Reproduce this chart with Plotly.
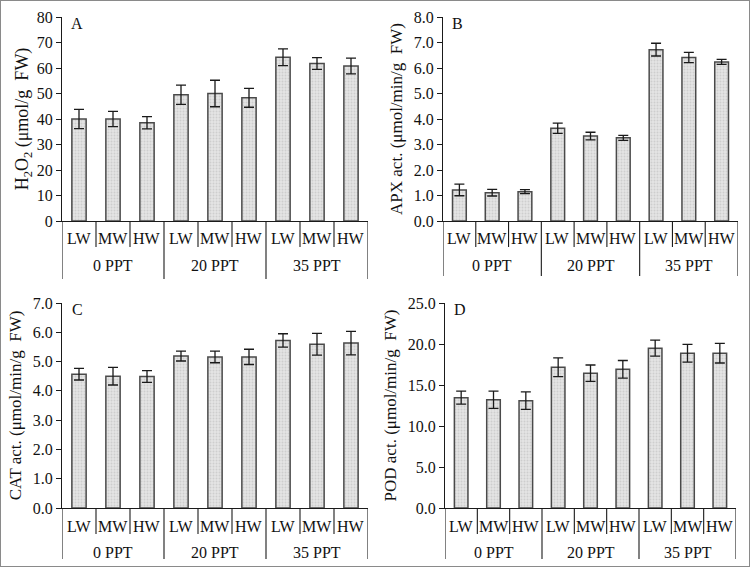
import plotly.graph_objects as go

# ---------------- data ----------------
sub_labels = ["LW", "MW", "HW"]
group_labels = ["0 PPT", "20 PPT", "35 PPT"]

h2o2_vals = [40.0, 40.0, 38.5, 49.5, 50.0, 48.3, 64.2, 61.8, 60.8]
h2o2_err = [3.8, 3.0, 2.4, 3.8, 5.2, 3.7, 3.3, 2.3, 3.1]

apx_vals = [1.22, 1.11, 1.15, 3.64, 3.33, 3.26, 6.72, 6.41, 6.24]
apx_err = [0.23, 0.13, 0.08, 0.20, 0.15, 0.10, 0.25, 0.20, 0.10]

cat_vals = [4.57, 4.50, 4.49, 5.19, 5.16, 5.16, 5.72, 5.59, 5.63]
cat_err = [0.20, 0.30, 0.20, 0.17, 0.20, 0.26, 0.23, 0.37, 0.40]

pod_vals = [13.46, 13.21, 13.09, 17.17, 16.44, 16.92, 19.49, 18.88, 18.88]
pod_err = [0.80, 1.05, 1.07, 1.15, 1.00, 1.07, 0.98, 1.08, 1.20]

panel_letters = ["A", "B", "C", "D"]
y_titles = [
    "H<sub>2</sub>O<sub>2</sub> (μmol/g\u00a0\u00a0FW)",
    "APX act. (μmol/min/g\u00a0\u00a0FW)",
    "CAT act. (μmol/min/g\u00a0\u00a0FW)",
    "POD act. (μmol/min/g\u00a0\u00a0FW)",
]
y_title_size = [18, 17, 17, 17]
y_title_standoff = [3, 6, 6, 6]
y_max = [80, 8, 7, 25]
y_dtick = [10, 1, 1, 5]
y_fmt = ["d", ".1f", ".1f", ".1f"]

# ---------------- layout geometry ----------------
W, H = 750, 567
FONT = "Liberation Serif, Times New Roman, Times, serif"
# pixel boxes (left, right, top, bottom) of the plot areas
boxes = [
    (62, 368, 17, 221),
    (443, 738, 17, 221),
    (62, 368, 303, 508),
    (445, 736, 303, 508),
]
long_len = [58, 55, 51, 51]

values = [h2o2_vals, apx_vals, cat_vals, pod_vals]
errors = [h2o2_err, apx_err, cat_err, pod_err]

n_cat = len(sub_labels) * len(group_labels)
xs = list(range(n_cat))
cat_text = [s for g in group_labels for s in sub_labels]

fig = go.Figure()
shapes = []
annotations = []
layout_axes = {}

for i in range(4):
    sfx = "" if i == 0 else str(i + 1)
    xa, ya = "x" + sfx, "y" + sfx
    l, r, t, b = boxes[i]
    xdom = [l / W, r / W]
    ydom = [1 - b / H, 1 - t / H]
    fig.add_trace(go.Bar(
        x=xs, y=values[i], xaxis=xa, yaxis=ya, width=0.42,
        marker=dict(
            color="#d9d9d9",
            line=dict(color="#4a4a4a", width=1.5),
            pattern=dict(shape=".", fgcolor="#b8b8b8", bgcolor="#e4e4e4",
                         size=3, solidity=0.35),
        ),
        error_y=dict(type="data", array=errors[i], visible=True,
                     color="#1a1a1a", thickness=1.3, width=5),
        showlegend=False, hoverinfo="skip",
    ))
    layout_axes["xaxis" + sfx] = dict(
        domain=xdom, anchor=ya, range=[-0.5, n_cat - 0.5],
        showticklabels=False, ticks="", showgrid=False, zeroline=False,
        showline=True, linecolor="#1a1a1a", linewidth=1.2,
        fixedrange=True,
    )
    layout_axes["yaxis" + sfx] = dict(
        domain=ydom, anchor=xa, range=[0, y_max[i]], dtick=y_dtick[i],
        tickformat=y_fmt[i], ticks="outside", ticklen=5, tickcolor="#1a1a1a",
        showgrid=False, zeroline=False, showline=True, linecolor="#1a1a1a",
        linewidth=1.2, tickfont=dict(family=FONT, size=16, color="#111"),
        title=dict(text=y_titles[i],
                   font=dict(family=FONT, size=y_title_size[i], color="#111"),
                   standoff=y_title_standoff[i]),
        automargin=False, fixedrange=True,
    )
    ybot = ydom[0]
    # divider lines below the axis
    for k in range(n_cat + 1):
        is_long = (k % len(sub_labels) == 0)
        length = long_len[i] if is_long else 26
        shapes.append(dict(
            type="line", xref=xa, yref="paper",
            x0=k - 0.5, x1=k - 0.5, y0=ybot, y1=ybot - length / H,
            line=dict(color="#1a1a1a", width=1.1),
        ))
    # category labels
    for k, txt in enumerate(cat_text):
        annotations.append(dict(
            x=k, y=ybot - 18 / H, xref=xa, yref="paper", text=txt,
            showarrow=False, xanchor="center", yanchor="middle",
            font=dict(family=FONT, size=16, color="#111"),
        ))
    for g, txt in enumerate(group_labels):
        annotations.append(dict(
            x=g * len(sub_labels) + (len(sub_labels) - 1) / 2,
            y=ybot - 45 / H, xref=xa, yref="paper", text=txt,
            showarrow=False, xanchor="center", yanchor="middle",
            font=dict(family=FONT, size=16, color="#111"),
        ))
    # panel letter
    annotations.append(dict(
        x=0.05, y=0.97, xref=xa + " domain", yref=ya + " domain",
        text=panel_letters[i], showarrow=False, xanchor="center",
        yanchor="middle", font=dict(family=FONT, size=16, color="#111"),
    ))

# outer frame
shapes.append(dict(type="rect", xref="paper", yref="paper", x0=0, y0=0,
                   x1=1, y1=1, line=dict(color="#8a8a8a", width=2)))

fig.update_layout(
    width=W, height=H, margin=dict(l=0, r=0, t=0, b=0),
    paper_bgcolor="white", plot_bgcolor="white",
    bargap=0.58, shapes=shapes, annotations=annotations,
    font=dict(family=FONT),
    **layout_axes,
)

fig.write_html(
    "out.html",
    config={"displayModeBar": False},
    post_script="document.body.style.margin='0';document.body.style.padding='0';",
)
